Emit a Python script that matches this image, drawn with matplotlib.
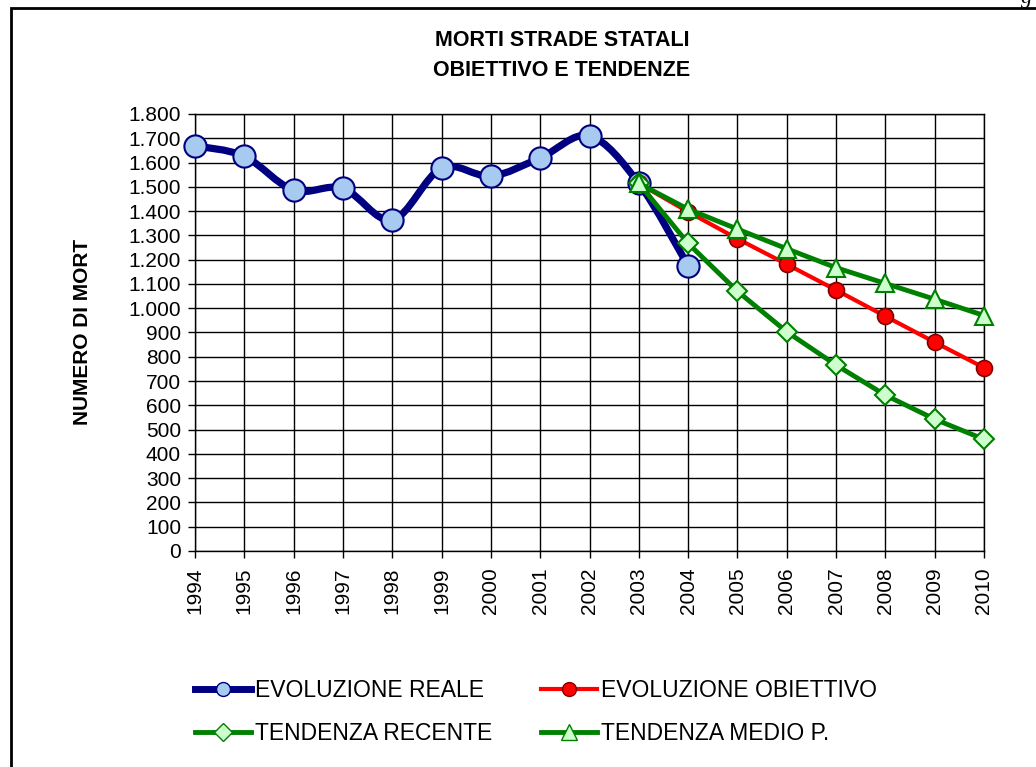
import matplotlib
matplotlib.use("Agg")
import matplotlib.pyplot as plt
from matplotlib.path import Path
from matplotlib.patches import PathPatch, Rectangle
from matplotlib.lines import Line2D
from matplotlib.ticker import FuncFormatter, MultipleLocator
import numpy as np

plt.rcParams['font.family'] = ['Liberation Sans', 'DejaVu Sans']

years = list(range(1994, 2011))
reale_years = list(range(1994, 2005))
reale = [1669, 1626, 1486, 1494, 1363, 1577, 1544, 1619, 1710, 1514, 1175]
trend_years = list(range(2003, 2011))
obiettivo = [1514, 1397, 1286, 1181, 1075, 967, 860, 755]
recente = [1514, 1267, 1070, 903, 766, 642, 543, 460]
medio = [1514, 1408, 1326, 1245, 1167, 1102, 1037, 970]

title_lines = ["MORTI STRADE STATALI", "OBIETTIVO E TENDENZE"]
ylabel = "NUMERO DI MORT"
labels = ["EVOLUZIONE REALE", "EVOLUZIONE OBIETTIVO", "TENDENZA RECENTE", "TENDENZA MEDIO P."]

W, H = 1036, 767
fig = plt.figure(figsize=(W / 100, H / 100), dpi=100)
fig.patch.set_facecolor('white')

ax_l, ax_r, ax_t, ax_b = 195, 984, 114, 551
ax = fig.add_axes([ax_l / W, 1 - ax_b / H, (ax_r - ax_l) / W, (ax_b - ax_t) / H])

NAVY = '#000080'
LBLUE = '#A6CAF0'
GREEN = '#008000'
LGREEN = '#CCFFCC'


def smooth_path(xs, ys):
    pts = np.column_stack([xs, ys]).astype(float)
    n = len(pts)
    verts = [pts[0]]
    codes = [Path.MOVETO]
    for i in range(n - 1):
        p0 = pts[i - 1] if i > 0 else pts[i]
        p1 = pts[i]
        p2 = pts[i + 1]
        p3 = pts[i + 2] if i + 2 < n else pts[i + 1]
        c1 = p1 + (p2 - p0) / 6.0
        c2 = p2 - (p3 - p1) / 6.0
        verts += [c1, c2, p2]
        codes += [Path.CURVE4] * 3
    return Path(verts, codes)


# Evoluzione reale (smoothed)
patch = PathPatch(smooth_path(reale_years, reale), fill=False, edgecolor=NAVY,
                  linewidth=5.2, zorder=3, capstyle='round', joinstyle='round')
ax.add_patch(patch)
ax.plot(reale_years, reale, linestyle='none', marker='o', markersize=16,
        markerfacecolor=LBLUE, markeredgecolor=NAVY, markeredgewidth=1.5,
        zorder=4, clip_on=False)

ax.plot(trend_years, obiettivo, color='#FF0000', linewidth=3, marker='o',
        markersize=11.5, markerfacecolor='#FF0000', markeredgecolor='#800000',
        markeredgewidth=1.2, zorder=5, clip_on=False)
ax.plot(trend_years, recente, color=GREEN, linewidth=3.5, marker='D',
        markersize=10, markerfacecolor=LGREEN, markeredgecolor=GREEN,
        markeredgewidth=1.5, zorder=6, clip_on=False)
ax.plot(trend_years, medio, color=GREEN, linewidth=3.5, marker='^',
        markersize=13, markerfacecolor=LGREEN, markeredgecolor=GREEN,
        markeredgewidth=1.5, zorder=7, clip_on=False)

ax.set_xlim(1994, 2010)
ax.set_ylim(0, 1800)
ax.set_xticks(years)
ax.set_xticklabels([str(y) for y in years], rotation=90, fontsize=15)
ax.yaxis.set_major_locator(MultipleLocator(100))
ax.yaxis.set_major_formatter(FuncFormatter(lambda v, p: f"{int(round(v)):,}".replace(",", ".")))
ax.tick_params(axis='both', direction='out', length=5, width=1, labelsize=15, colors='black')
ax.tick_params(axis='y', pad=5)
ax.tick_params(axis='x', pad=7)
ax.grid(True, color='black', linewidth=1.0)
ax.set_axisbelow(True)
for s in ax.spines.values():
    s.set_color('black')
    s.set_linewidth(1.0)

# Titles and label
fig.text(562 / W, 1 - 41 / H, title_lines[0], ha='center', va='center',
         fontsize=15.5, fontweight='bold')
fig.text(562 / W, 1 - 71 / H, title_lines[1], ha='center', va='center',
         fontsize=15.5, fontweight='bold')
fig.text(82 / W, 1 - 332 / H, ylabel, ha='center', va='center', rotation=90,
         fontsize=15, fontweight='bold')

# Legend (row-wise order like the reference: REALE, OBIETTIVO / RECENTE, MEDIO)
h_reale = Line2D([], [], color=NAVY, linewidth=5, marker='o', markersize=10,
                 markerfacecolor=LBLUE, markeredgecolor=NAVY)
h_obi = Line2D([], [], color='#FF0000', linewidth=3, marker='o', markersize=10,
               markerfacecolor='#FF0000', markeredgecolor='#800000')
h_rec = Line2D([], [], color=GREEN, linewidth=3.5, marker='D', markersize=9,
               markerfacecolor=LGREEN, markeredgecolor=GREEN)
h_med = Line2D([], [], color=GREEN, linewidth=3.5, marker='^', markersize=11,
               markerfacecolor=LGREEN, markeredgecolor=GREEN)
fig.legend([h_reale, h_rec, h_obi, h_med],
           [labels[0], labels[2], labels[1], labels[3]],
           ncol=2, loc='center', bbox_to_anchor=(536 / W, 1 - 712 / H),
           frameon=False, fontsize=16.5, handlelength=2.45, handletextpad=0.2,
           columnspacing=2.1, labelspacing=0.85)

# Outer frame (extends off right/bottom)
fig.patches.append(Rectangle((11 / W, -0.05), 1.1, 1 - 8 / H + 0.05,
                             transform=fig.transFigure, fill=False,
                             edgecolor='black', linewidth=2))

# Cut-off italic letter at top right (only its tail shows, as in the reference)
fig.text(1021 / W, 1 - 3 / H, 'g', family='Liberation Serif', style='italic',
         fontsize=16, ha='left', va='baseline')

fig.savefig('out.png', dpi=100)
